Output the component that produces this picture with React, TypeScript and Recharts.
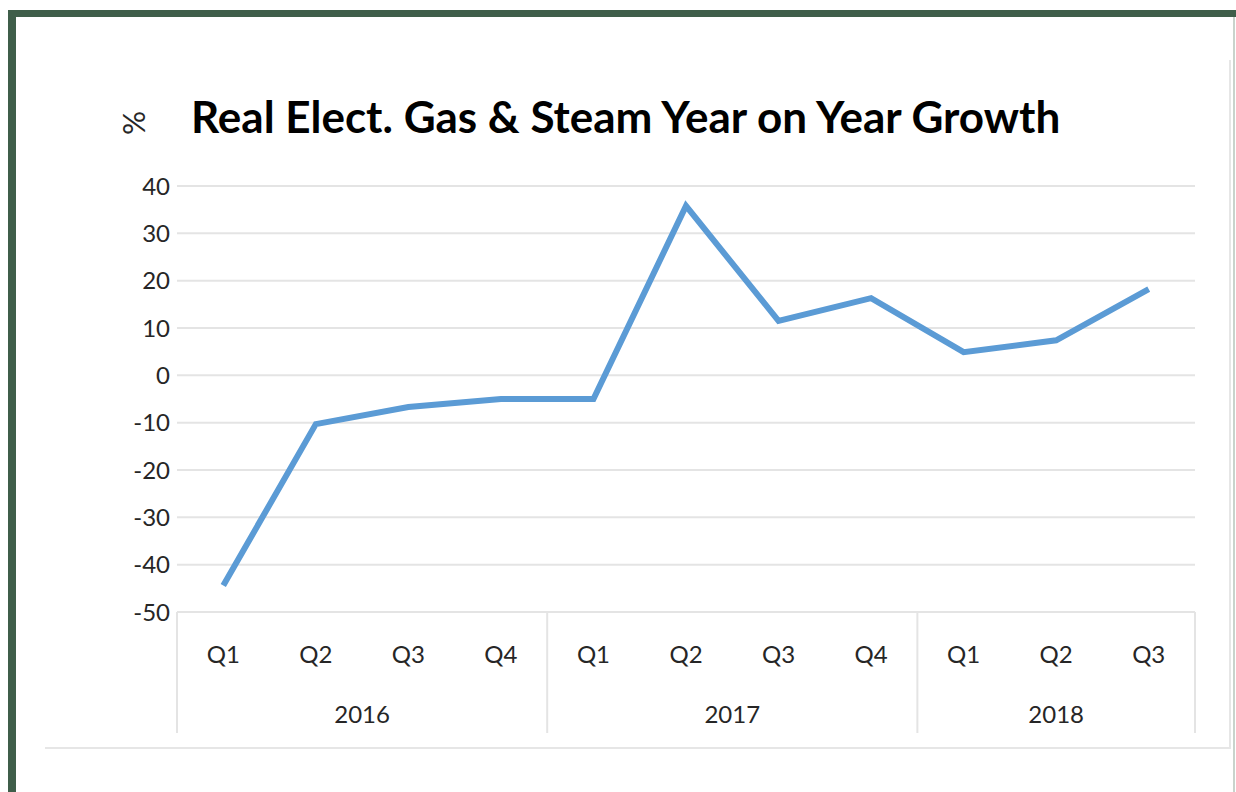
import { LineChart, Line, XAxis, YAxis, CartesianGrid } from 'recharts';

const quarters = ['Q1', 'Q2', 'Q3', 'Q4', 'Q1', 'Q2', 'Q3', 'Q4', 'Q1', 'Q2', 'Q3'];
const years = ['2016', '2016', '2016', '2016', '2017', '2017', '2017', '2017', '2018', '2018', '2018'];
const growth = [-44.4, -10.3, -6.7, -5.0, -5.0, 35.8, 11.5, 16.3, 4.9, 7.4, 18.2];
const yTicks = [-50, -40, -30, -20, -10, 0, 10, 20, 30, 40];

const data = quarters.map((q, i) => ({ q, year: years[i], value: growth[i] }));

const W = 1236;
const H = 792;
const left = 177;
const right = 41;
const top = 186;
const bottom = 59;
const axisH = 121;
const band = (W - left - right) / quarters.length;
const gridColor = '#e4e4e4';
const font = 'Lato, "Open Sans", sans-serif';

const QuarterTick = (props: any) => {
  const { x, y, payload } = props;
  const i = payload.index;
  const yr = years[i];
  const first = i === 0 || years[i - 1] !== yr;
  const groupLen = years.filter((v) => v === yr).length;
  const y0 = y - 8;
  return (
    <g>
      <text x={x} y={y0 + 51} textAnchor="middle" fontSize={24} fill="#262626" fontFamily={font}>
        {payload.value}
      </text>
      {first && (
        <>
          <line x1={x - band / 2} y1={y0} x2={x - band / 2} y2={y0 + axisH} stroke={gridColor} strokeWidth={2} />
          <text
            x={x - band / 2 + (groupLen * band) / 2}
            y={y0 + 111}
            textAnchor="middle"
            fontSize={24}
            fill="#262626"
            fontFamily={font}
          >
            {yr}
          </text>
        </>
      )}
      {i === years.length - 1 && (
        <line x1={x + band / 2} y1={y0} x2={x + band / 2} y2={y0 + axisH} stroke={gridColor} strokeWidth={2} />
      )}
    </g>
  );
};

export default function App() {
  return (
    <div style={{ position: 'absolute', left: 0, top: 0, width: W, height: H, background: '#fff', overflow: 'hidden' }}>
      {/* frame */}
      <div style={{ position: 'absolute', left: 8, top: 10, width: W - 8, height: 7, background: '#3f5e4a' }} />
      <div style={{ position: 'absolute', left: 8, top: 10, width: 8, height: H - 10, background: '#3f5e4a' }} />
      <div style={{ position: 'absolute', left: 1233, top: 17, width: 2, height: H - 17, background: '#c9d3cc' }} />
      <div style={{ position: 'absolute', left: 1229, top: 60, width: 2, height: 688, background: '#e6e6e6' }} />
      <div style={{ position: 'absolute', left: 45, top: 747, width: 1186, height: 2, background: '#e6e6e6' }} />
      <div
        style={{
          position: 'absolute',
          left: 191,
          top: 88,
          fontFamily: font,
          fontWeight: 700,
          fontSize: 44,
          lineHeight: '56px',
          color: '#000',
          whiteSpace: 'nowrap',
        }}
      >
        Real Elect. Gas &amp; Steam Year on Year Growth
      </div>
      <div
        style={{
          position: 'absolute',
          left: 121,
          top: 108,
          width: 24,
          textAlign: 'center',
          fontFamily: font,
          fontSize: 30,
          lineHeight: '30px',
          color: '#262626',
          transform: 'rotate(-90deg)',
        }}
      >
        %
      </div>
      <div style={{ position: 'absolute', left: 0, top: 0 }}>
        <LineChart width={W} height={H} data={data} margin={{ top, right, bottom, left: 0 }}>
          <CartesianGrid vertical={false} stroke={gridColor} strokeWidth={2} />
          <XAxis
            dataKey="q"
            interval={0}
            height={axisH}
            padding={{ left: band / 2, right: band / 2 }}
            axisLine={{ stroke: gridColor, strokeWidth: 2 }}
            tickLine={false}
            tick={<QuarterTick />}
          />
          <YAxis
            domain={[-50, 40]}
            ticks={yTicks}
            width={left}
            axisLine={false}
            tickLine={false}
            tick={{ fontSize: 24, fill: '#262626', fontFamily: font }}
            tickMargin={1}
          />
          <Line
            type="linear"
            dataKey="value"
            stroke="#5b9bd5"
            strokeWidth={6}
            dot={false}
            isAnimationActive={false}
          />
        </LineChart>
      </div>
    </div>
  );
}
